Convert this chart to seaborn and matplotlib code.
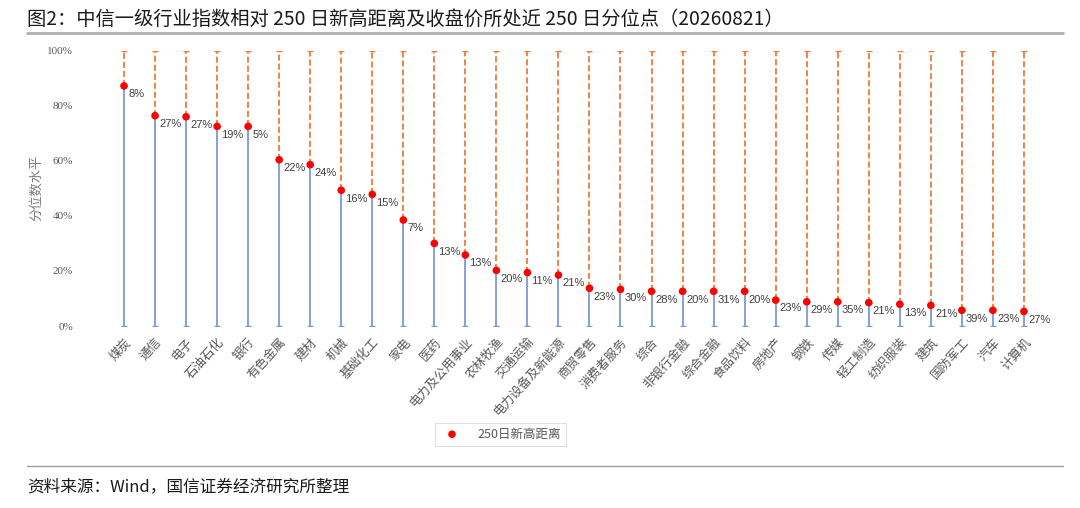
import numpy as np
import pandas as pd
import matplotlib
matplotlib.use("Agg")
import matplotlib.pyplot as plt
import matplotlib.transforms as mtransforms
import seaborn as sns


# ============================================
# DATA
# ============================================

industries = [
    "煤炭", "通信", "电子", "石油石化", "银行", "有色金属", "建材", "机械",
    "基础化工", "家电", "医药", "电力及公用事业", "农林牧渔", "交通运输",
    "电力设备及新能源", "商贸零售", "消费者服务", "综合", "非银行金融",
    "综合金融", "食品饮料", "房地产", "钢铁", "传媒", "轻工制造",
    "纺织服装", "建筑", "国防军工", "汽车", "计算机"
]

# 收盘价所处近 250 日分位点 (%)
percentile = [
    87.2, 76.4, 76.0, 72.5, 72.5, 60.4, 58.6, 49.3,
    47.8, 38.5, 30.0, 25.8, 20.2, 19.4,
    18.5, 13.7, 13.3, 12.6, 12.6,
    12.6, 12.6, 9.4, 8.8, 8.8, 8.5,
    7.9, 7.5, 5.7, 5.7, 5.3
]

# 250 日新高距离 (%)
distance = [
    8, 27, 27, 19, 5, 22, 24, 16,
    15, 7, 13, 13, 20, 11,
    21, 23, 30, 28, 20,
    31, 20, 23, 29, 35, 21,
    13, 21, 39, 23, 27
]

df = pd.DataFrame({
    "industry": industries,
    "percentile": percentile,
    "distance": distance
})
df["pos"] = np.arange(len(df))


# ============================================
# FIGURE
# ============================================

sns.set_style("white")
plt.rcParams["font.family"] = ["Noto Sans CJK SC", "DejaVu Sans"]

fig = plt.figure(figsize=(10.8, 5.08), dpi=100)
ax = fig.add_axes([85 / 1080, 1 - 326 / 508, 960 / 1080, (326 - 50.7) / 508])

blue = "#7b98dc"
orange = "#ee7a3c"

# blue line from 0 to dot
ax.errorbar(
    df["pos"], df["percentile"],
    yerr=[df["percentile"], np.zeros(len(df))],
    fmt="none", ecolor=blue, elinewidth=1.3, capsize=2.5, capthick=1.0
)

# orange dashed line from dot to 100%
eb2 = ax.errorbar(
    df["pos"], df["percentile"],
    yerr=[np.zeros(len(df)), 100 - df["percentile"]],
    fmt="none", ecolor=orange, elinewidth=1.3, capsize=2.5, capthick=1.0
)
for lc in eb2[2]:
    lc.set_linestyle((0, (3.4, 1.6)))

sns.scatterplot(
    data=df, x="pos", y="percentile",
    color="#ff0000", s=30, edgecolor="none",
    zorder=5, clip_on=False, ax=ax, label="250日新高距离"
)

for _, row in df.iterrows():
    ax.annotate(
        f"{row['distance']}%",
        xy=(row["pos"], row["percentile"]),
        xytext=(3, -6), textcoords="offset points",
        ha="left", va="center", fontsize=8, color="#404040",
        family=["Liberation Sans", "DejaVu Sans"]
    )

ax.set_xlim(-1.257, 29.68)
ax.set_ylim(0, 100)

ax.set_yticks(np.arange(0, 101, 20))
ax.set_yticklabels(
    [f"{v}%" for v in range(0, 101, 20)],
    fontsize=8, color="#595959", family=["Liberation Serif", "DejaVu Serif"]
)

ax.set_xticks(df["pos"])
ax.set_xticklabels(
    df["industry"], rotation=48, ha="right", rotation_mode="anchor",
    fontsize=9, color="#595959"
)
shift = mtransforms.ScaledTranslation(-7 / 100, 0, fig.dpi_scale_trans)
for lab in ax.get_xticklabels():
    lab.set_transform(lab.get_transform() + shift)

ax.tick_params(axis="x", length=0, pad=7)
ax.tick_params(axis="y", length=0, pad=8.6)

ax.set_xlabel("")
ax.set_ylabel("分位数水平", fontsize=9.5, color="#7f7f7f", labelpad=3)

for side in ["top", "right", "bottom", "left"]:
    ax.spines[side].set_visible(False)

leg = ax.legend(
    loc="center", bbox_to_anchor=(500 / 1080, 1 - 434 / 508),
    bbox_transform=fig.transFigure, frameon=True, fontsize=9,
    handletextpad=1.0, borderpad=0.4, fancybox=False
)
leg.get_frame().set_edgecolor("#d9d9d9")
leg.get_frame().set_linewidth(0.8)
for t in leg.get_texts():
    t.set_color("#595959")


# ============================================
# TITLE AND FOOTER
# ============================================

fig.text(
    27 / 1080, 1 - 19 / 508,
    "图2：中信一级行业指数相对 250 日新高距离及收盘价所处近 250 日分位点（20260821）",
    fontsize=13.9, color="#1a1a1a", ha="left", va="center"
)
fig.add_artist(plt.Line2D(
    [27 / 1080, 1063 / 1080], [1 - 33 / 508, 1 - 33 / 508],
    color="#b0b0b0", linewidth=2
))
fig.add_artist(plt.Line2D(
    [27 / 1080, 1063 / 1080], [1 - 466 / 508, 1 - 466 / 508],
    color="#a0a0a0", linewidth=1
))
fig.text(
    27 / 1080, 1 - 487 / 508,
    "资料来源：Wind，国信证券经济研究所整理",
    fontsize=12, color="#1a1a1a", ha="left", va="center"
)

fig.savefig("out.png", dpi=100)
